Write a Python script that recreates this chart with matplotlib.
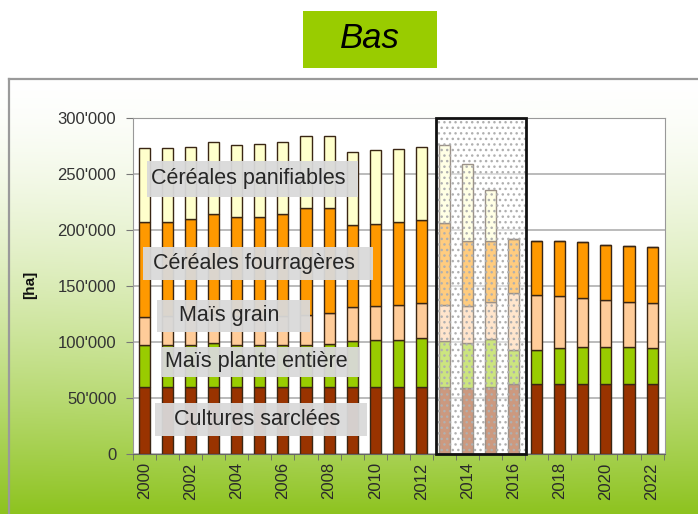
import numpy as np
import matplotlib.pyplot as plt
from matplotlib.patches import Rectangle
from matplotlib.lines import Line2D
from matplotlib.ticker import FuncFormatter

plt.rcParams['font.family'] = ['Liberation Sans', 'DejaVu Sans']

# surfaces en ha, Bas
years = np.arange(2000, 2023)
sarclees = [59500, 59500, 59500, 59500, 59500, 59500, 59500, 59500, 59500, 59500,
            59500, 59500, 59500, 59500, 58600, 59500, 62500, 62500, 62500, 62500,
            62500, 62500, 62500]
plante_entiere = [37800, 37500, 37500, 40000, 37500, 37500, 37500, 37500, 39000, 41400,
                  42300, 42300, 43800, 41400, 40800, 42900, 30400, 30400, 31800, 33300,
                  33300, 33300, 32400]
mais_grain = [25300, 26000, 26000, 24500, 26000, 26000, 26000, 27000, 27100, 30600,
              30200, 31200, 31200, 32100, 32600, 33600, 50500, 49100, 46700, 43800,
              41700, 40200, 40100]
fourrageres = [84800, 84400, 86800, 90300, 88300, 89000, 91300, 96000, 94400, 73000,
               73400, 74400, 74500, 73500, 58500, 54500, 48300, 48500, 49500, 49400,
               49500, 50000, 49800]
panifiables = [65600, 65600, 64600, 64700, 64700, 64800, 64700, 64000, 64000, 65500,
               65600, 64600, 65000, 69100, 68500, 45200, 0, 0, 0, 0,
               0, 0, 0]

series = [
    ("Cultures sarclées", sarclees, "#993300"),
    ("Maïs plante entière", plante_entiere, "#99CC00"),
    ("Maïs grain", mais_grain, "#FFCC99"),
    ("Céréales fourragères", fourrageres, "#FF9900"),
    ("Céréales panifiables", panifiables, "#FFFFCC"),
]
# projection years (dotted box)
proj_start, proj_end = 2012.62, 2016.55

W, H = 698, 514
fig = plt.figure(figsize=(W / 100, H / 100), dpi=100)

# background: white on top, green gradient inside the frame
bg = fig.add_axes([0, 0, 1, 1], zorder=-10)
frame_top = 79
rows = np.arange(H)
cols = np.linspace(0, 1, W)
t = np.clip((rows - frame_top) / (H - frame_top), 0, 1)
bump = np.exp(-((cols - 0.55) / 0.3) ** 2)
f = (t ** 1.5)[:, None] * (1 - 0.35 * (1 - t[:, None]) * bump[None, :])
green = np.array([141, 195, 30]) / 255
img = 1 - f[..., None] * (1 - green)
img[rows < frame_top] = 1
bg.imshow(img, aspect='auto', extent=[0, 1, 0, 1], origin='upper')
bg.axis('off')

fig.add_artist(Line2D([9 / W, 1], [1 - frame_top / H] * 2, color='#9a9a9a', lw=1.6))
fig.add_artist(Line2D([9 / W] * 2, [0, 1 - frame_top / H], color='#9a9a9a', lw=1.6))

# title box
fig.add_artist(Rectangle((303 / W, 1 - 68 / H), 134 / W, 57 / H,
                         transform=fig.transFigure, facecolor='#99CC00', edgecolor='none'))
fig.text(370 / W, 1 - 39 / H, "Bas", ha='center', va='center', fontsize=25,
         style='italic', color='black')

ax = fig.add_axes([133 / W, 1 - 454 / H, 532 / W, 336 / H])
ax.set_facecolor('white')

bottom = np.zeros(len(years))
for name, vals, color in series:
    vals = np.array(vals, dtype=float)
    ax.bar(years, vals, width=0.48, bottom=bottom, color=color,
           edgecolor='#3a2614', linewidth=1.0, zorder=2)
    bottom += vals

# projection overlay
ax.add_patch(Rectangle((proj_start, 0), proj_end - proj_start, 300000,
                       facecolor='white', alpha=0.5, edgecolor='none', zorder=3))
ax.add_patch(Rectangle((proj_start, 0), proj_end - proj_start, 300000,
                       facecolor='none', edgecolor='#b0b0b0', hatch='...', lw=0, zorder=3))
ax.add_patch(Rectangle((proj_start, 0), proj_end - proj_start, 300000,
                       facecolor='none', edgecolor='#111111', lw=2, zorder=4,
                       clip_on=False))

ax.set_xlim(1999.51, 2022.56)
ax.set_ylim(0, 300000)
ax.set_yticks(np.arange(0, 300001, 50000))
ax.yaxis.set_major_formatter(FuncFormatter(
    lambda v, p: "0" if v == 0 else f"{int(v) // 1000}'{int(v) % 1000:03d}"))
ax.yaxis.grid(True, color='#a8a8a8', lw=1.1)
ax.set_axisbelow(True)

ax.set_xticks(years[::2])
ax.set_xticklabels([str(y) for y in years[::2]], rotation=90)
ax.set_xticks(np.append(years - 0.5, years[-1] + 0.5), minor=True)
ax.tick_params(axis='x', which='major', length=0, pad=6, labelsize=12, labelcolor='#2a2a2a')
ax.tick_params(axis='x', which='minor', length=4, color='#666666', direction='out')
ax.tick_params(axis='y', length=5, color='#777777', labelsize=12, labelcolor='#333333', pad=7)

for s in ['top', 'right', 'left']:
    ax.spines[s].set_color('#999999')
ax.spines['bottom'].set_color('#666666')

fig.text(30 / W, 1 - 285 / H, "[ha]", rotation=90, ha='center', va='center',
         fontsize=11, fontweight='bold', color='#111111')

# category labels (box in pixel coordinates: x0, x1, y0, y1)
label_boxes = [
    ("Céréales panifiables", 146.7, 358, 160.7, 196.7),
    ("Céréales fourragères", 143, 373, 246.7, 280),
    ("Maïs grain", 156.7, 310, 300, 331.7),
    ("Maïs plante entière", 160.7, 360, 346.7, 377),
    ("Cultures sarclées", 155, 366.7, 403, 436),
]
for text, x0, x1, y0, y1 in label_boxes:
    ax0 = (x0 - 133) / 532
    ay0 = (454 - y1) / 336
    ax.add_patch(Rectangle((ax0, ay0), (x1 - x0) / 532, (y1 - y0) / 336,
                           transform=ax.transAxes, facecolor='#d9d9d9',
                           edgecolor='none', alpha=0.95, zorder=5))
    ax.text(((x0 + x1) / 2 - 4 - 133) / 532, (454 - (y0 + y1) / 2) / 336, text,
            transform=ax.transAxes, ha='center', va='center', fontsize=15.5,
            color='#262626', zorder=6)

fig.savefig("out.png", dpi=100)
